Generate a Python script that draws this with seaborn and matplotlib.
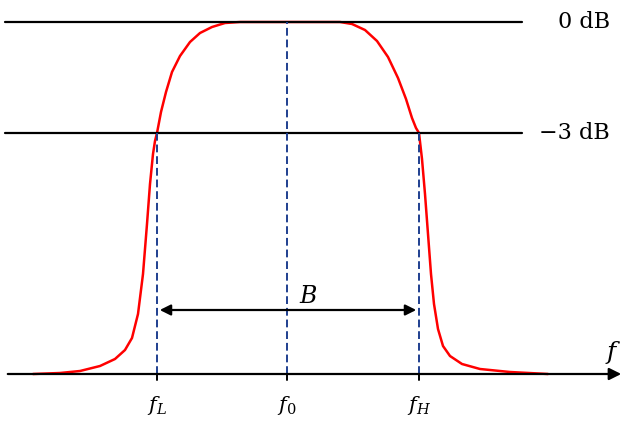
import numpy as np
import pandas as pd
import seaborn as sns
import matplotlib.pyplot as plt

# curve (x position, height above the f axis)
curve_x = [33, 60, 80, 100, 115, 125, 132, 138, 143, 147, 150, 153, 155, 157,
           161, 166, 172, 180, 190, 200, 212, 225, 240,
           340, 352, 365, 377, 388, 398, 406, 412, 416, 419, 422, 425, 428,
           431, 434, 438, 443, 450, 462, 480, 510, 548]
curve_y = [0, 1, 3, 8, 15, 24, 36, 60, 100, 150, 190, 220, 233, 241,
           262, 282, 302, 318, 332, 341, 347, 351, 352,
           352, 350, 344, 333, 317, 296, 275, 256, 246, 241, 215, 180, 140,
           100, 70, 45, 28, 18, 10, 5, 2, 0]

level_names = ["0 dB", "\u22123 dB"]
level_y = [352, 241]
freq_names = ["$f_L$", "$f_0$", "$f_H$"]
freq_x = [157, 287, 419]
freq_top = [241, 352, 241]

sns.set_theme(style="white")
plt.rcParams["font.family"] = ["DejaVu Serif"]
plt.rcParams["mathtext.fontset"] = "dejavuserif"
plt.rcParams["text.color"] = "black"
fig = plt.figure(figsize=(6.4, 4.26), dpi=100)
ax = fig.add_axes([0, 0, 1, 1])
ax.set_xlim(0, 640)
ax.set_ylim(-52, 374)
ax.axis("off")

df = pd.DataFrame({"x": curve_x, "y": curve_y})
sns.lineplot(data=df, x="x", y="y", color="red", lw=1.8, ax=ax, sort=False)

for name, y in zip(level_names, level_y):
    ax.plot([5, 522], [y, y], color="black", lw=1.6)
    ax.text(610, y, name, ha="right", va="center", fontsize=16)

for name, x, top in zip(freq_names, freq_x, freq_top):
    ax.plot([x, x], [0, top], color="#1f3f8f", lw=1.4, ls=(0, (4, 2)))
    ax.plot([x, x], [0, -6], color="black", lw=1.4)
    ax.text(x, -20, name, ha="center", va="top", fontsize=15)

# f axis
ax.annotate("", xy=(624, 0), xytext=(5, 0),
            arrowprops=dict(arrowstyle="-|>", color="black", lw=1.6, mutation_scale=18))
ax.text(613, 8, "$f$", ha="center", va="bottom", fontsize=18)

# bandwidth arrow
ax.annotate("", xy=(freq_x[2], 64), xytext=(freq_x[0], 64),
            arrowprops=dict(arrowstyle="<|-|>", color="black", lw=1.6, mutation_scale=16))
ax.text(308, 66, "$B$", ha="center", va="bottom", fontsize=17)

fig.savefig("out.png", dpi=100)
